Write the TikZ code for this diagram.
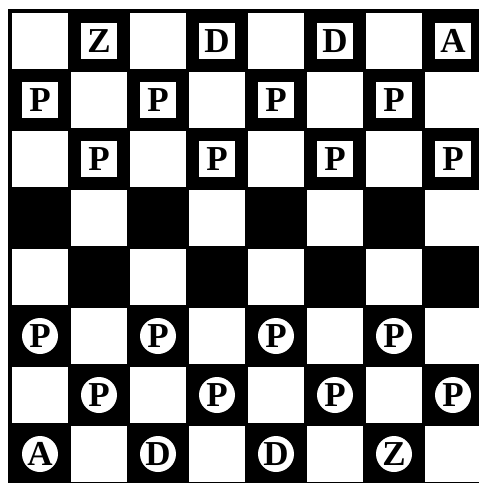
\documentclass[tikz,border=0pt]{standalone}
\usepackage{fontspec}
\setmainfont{Liberation Serif}
\newfontfamily\piecefamily{Liberation Serif Bold}
\begin{document}
\begin{tikzpicture}[x=1pt,y=-1pt,
  piecefont/.style={font=\piecefamily\fontsize{35}{35}\selectfont},
  boxpiece/.style={piecefont, fill=white, minimum size=36pt, inner sep=0pt},
  discpiece/.style={piecefont, circle, fill=white, minimum size=36pt, inner sep=0pt}]
\useasboundingbox (0,0) rectangle (479,483);
\fill[white] (0,0) rectangle (479,483);
\fill[black] (8,9) rectangle (481,483);
\foreach \r in {0,...,7} {
  \foreach \c in {0,...,7} {
    \pgfmathtruncatemacro\pp{mod(\r+\c,2)}
    \ifnum\pp=0
      \fill[white] ({8+59*\c+4},{9+59*\r+4}) rectangle +(56,56);
    \fi
  }
}
% black side (square pieces)
\node[boxpiece] (b1) at (99,41) {Z};
\node[boxpiece] (b2) at (217,41) {D};
\node[boxpiece] (b3) at (335,41) {D};
\node[boxpiece] (b4) at (453,41) {A};
\foreach \x [count=\i] in {40,158,276,394} \node[boxpiece] (bp\i) at (\x,100) {P};
\foreach \x [count=\i] in {99,217,335,453} \node[boxpiece] (bq\i) at (\x,159) {P};
% white side (round pieces)
\foreach \x [count=\i] in {40,158,276,394} \node[discpiece] (wp\i) at (\x,336) {P};
\foreach \x [count=\i] in {99,217,335,453} \node[discpiece] (wq\i) at (\x,395) {P};
\node[discpiece] (w1) at (40,454) {A};
\node[discpiece] (w2) at (158,454) {D};
\node[discpiece] (w3) at (276,454) {D};
\node[discpiece] (w4) at (394,454) {Z};
\end{tikzpicture}
\end{document}
